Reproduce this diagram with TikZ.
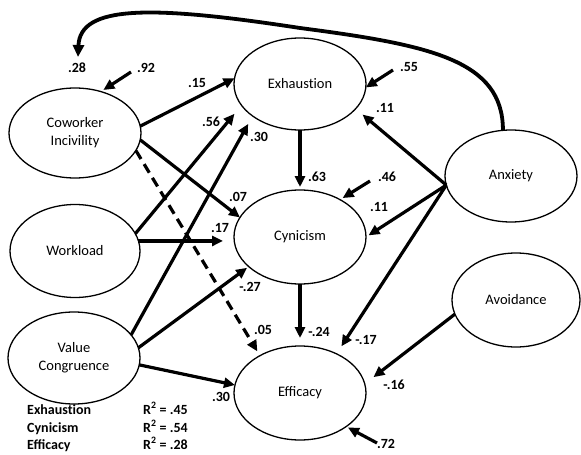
\documentclass[tikz,border=0pt]{standalone}
\usepackage{fontspec}
\setmainfont{Carlito}
\usetikzlibrary{arrows.meta,calc,shapes.geometric}
\newcommand{\exhword}{Exhaust\kern0pt ion}
\begin{document}
\begin{tikzpicture}[x=1pt,y=-1pt,
  lat/.style={draw, ellipse, line width=1.3pt, inner sep=0pt, outer sep=0pt, align=center, font=\fontsize{14.5}{18}\selectfont},
  arr/.style={line width=3.2pt, -{Triangle[length=11pt,width=10pt]}},
  lab/.style={font=\bfseries\fontsize{14}{16}\selectfont, inner sep=0pt},
]
\useasboundingbox (0,0) rectangle (581,455);
% latent variables
\node[lat, minimum width=132pt, minimum height=90pt] (ci) at (75,133) {Coworker\\Incivility};
\node[lat, minimum width=130pt, minimum height=93pt] (wl) at (75,251) {Workload};
\node[lat, minimum width=132pt, minimum height=92pt] (vc) at (74,358) {Value\\Congruence};
\node[lat, minimum width=132pt, minimum height=92pt] (ex) at (300,84) {\exhword};
\node[lat, minimum width=132pt, minimum height=94pt] (cy) at (300,237) {Cynicism};
\node[lat, minimum width=132pt, minimum height=94pt] (ef) at (300,393) {Efficacy};
\node[lat, minimum width=132pt, minimum height=92pt] (ax) at (511,176) {Anxiety};
\node[lat, minimum width=128pt, minimum height=94pt] (av) at (516,300) {Avoidance};
% free ends
\coordinate (c28) at (78,57);
\coordinate (e1) at (131,72);
\coordinate (e2) at (393,70);
\coordinate (e3) at (370,181);
\coordinate (e4) at (377,443);
% curved correlation
\draw[line width=3.8pt, -{Triangle[length=12pt,width=11pt]}] (ax.100) .. controls (503,60) and (430,45) .. (300,28) .. controls (150,5) and (80,5) .. (c28);
% paths
\draw[arr] (ci.6) -- (ex.175);
\draw[arr, shorten >=11pt] (wl.16) -- (ex.200);
\draw[arr, shorten >=9pt] (vc.22) -- (ex.214);
\draw[arr] (ci.-6) -- (cy.162);
\draw[arr, shorten >=11pt] (wl.9) -- (wl.9 -| cy.west);
\draw[arr, shorten >=2pt] (vc.9) -- (cy.210);
\draw[arr, dash pattern=on 10pt off 6pt, shorten >=5pt] (ci.-16) -- (ef.137);
\draw[arr] (vc.-6) -- (ef.173);
\draw[arr, shorten >=3pt] (ex.south) -- (ex.south |- cy.north);
\draw[arr, shorten >=8pt] (cy.south) -- (cy.south |- ef.north);
\draw[arr, shorten >=9pt] (ax.188) -- (ex.-24);
\draw[arr, shorten >=3pt] (ax.188) -- (cy.east);
\draw[arr, shorten >=9pt] (ax.188) -- (ef.47);
\draw[arr, shorten >=11pt] (av.193) -- (ef.8);
% error terms
\draw[arr, shorten >=3pt] (e1) -- (ci.58);
\draw[arr] (e2) -- (ex.-3);
\draw[arr, shorten >=3pt] (e3) -- (cy.43);
\draw[arr, shorten >=2pt] (e4) -- (ef.-36);
% labels
\node[lab] (l28) at (77,68) {.28};
\node[lab] (l92) at (146,68) {.92};
\node[lab] (l15) at (197,83) {.15};
\node[lab] (l56) at (211,122) {.56};
\node[lab] (l30a) at (259,137) {.30};
\node[lab] (l07) at (238,197) {.07};
\node[lab] (l17) at (220,228) {.17};
\node[lab] (l27) at (250,287) {-.27};
\node[lab] (l05) at (263,330) {.05};
\node[lab] (l30b) at (221,397) {.30};
\node[lab] (l63) at (317,177) {.63};
\node[lab] (l24) at (319,332) {-.24};
\node[lab] (l55) at (409,67) {.55};
\node[lab] (l11a) at (385,108) {.11};
\node[lab] (l46) at (387,177) {.46};
\node[lab] (l11b) at (379,207) {.11};
\node[lab] (l17b) at (366,340) {-.17};
\node[lab] (l16) at (394,385) {-.16};
\node[lab] (l72) at (386,444) {.72};
% R2 table
\node[lab, anchor=base west] (t1) at (27,414) {\exhword};
\node[lab, anchor=base west] (r1) at (143,414) {R\textsuperscript{2} = .45};
\node[lab, anchor=base west] (t2) at (27,432) {Cynicism};
\node[lab, anchor=base west] (r2) at (143,432) {R\textsuperscript{2} = .54};
\node[lab, anchor=base west] (t3) at (27,449) {Efficacy};
\node[lab, anchor=base west] (r3) at (143,449) {R\textsuperscript{2} = .28};
\end{tikzpicture}
\end{document}
